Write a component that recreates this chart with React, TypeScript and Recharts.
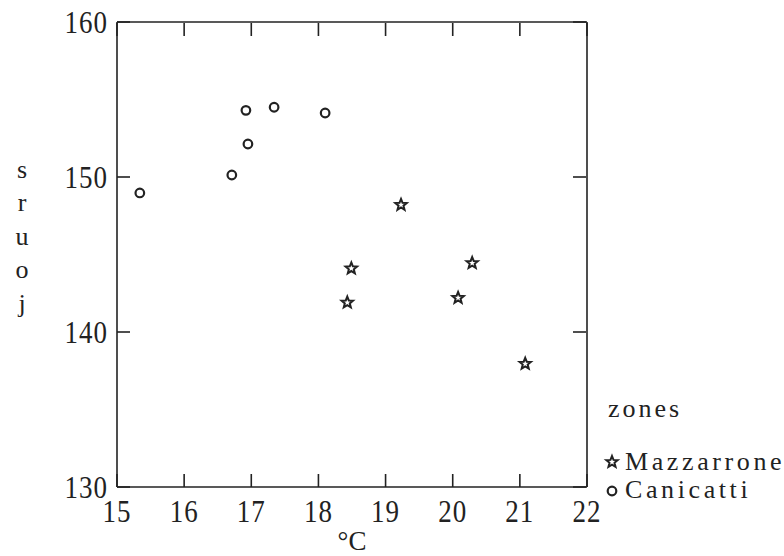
import React from 'react';
import { Legend, Scatter, ScatterChart, XAxis, YAxis } from 'recharts';

// temperature (°C) vs days, two zones
const mazzarroneTemp = [19.23, 18.49, 18.43, 20.08, 20.29, 21.08];
const mazzarroneDays = [148.2, 144.1, 141.9, 142.2, 144.45, 137.95];

const canicattiTemp = [15.34, 16.71, 16.95, 16.92, 17.34, 18.1];
const canicattiDays = [148.97, 150.13, 152.13, 154.3, 154.5, 154.13];

const xTicks = [15, 16, 17, 18, 19, 20, 21, 22];
const yTicks = [130, 140, 150, 160];

const FONT = "'Liberation Serif', 'Times New Roman', serif";
const INK = '#222';
const TICK_LEN = 13;
const X_GAP = 13;
const Y_GAP = 9;

const mazzarrone = mazzarroneTemp.map((t, i) => ({ t, d: mazzarroneDays[i] }));
const canicatti = canicattiTemp.map((t, i) => ({ t, d: canicattiDays[i] }));

function starPoints(cx: number, cy: number, ro: number, ri: number) {
  const pts: string[] = [];
  for (let i = 0; i < 10; i++) {
    const r = i % 2 === 0 ? ro : ri;
    const a = -Math.PI / 2 + (i * Math.PI) / 5;
    pts.push(`${cx + r * Math.cos(a)},${cy + r * Math.sin(a)}`);
  }
  return pts.join(' ');
}

const StarMark = ({ cx, cy }: any) => (
  <polygon points={starPoints(cx, cy, 6, 2.6)} fill="#fff" stroke={INK} strokeWidth={2} strokeLinejoin="miter" />
);

const CircleMark = ({ cx, cy }: any) => (
  <circle cx={cx} cy={cy} r={4.3} fill="#fff" stroke={INK} strokeWidth={2.2} />
);

const textStyle = { fontFamily: FONT, fontSize: 26, fill: INK, letterSpacing: 3 } as const;

function ZonesLegend() {
  return (
    <svg width={184} height={120}>
      <text x={8} y={24} style={textStyle}>zones</text>
      <StarMark cx={12} cy={69} />
      <text x={25} y={77} style={{ ...textStyle, letterSpacing: 3.6 }}>Mazzarrone</text>
      <CircleMark cx={12} cy={98} />
      <text x={25} y={105} style={{ ...textStyle, letterSpacing: 3.6 }}>Canicatti</text>
    </svg>
  );
}

function StackedLabel({ viewBox }: any) {
  const letters = ['s', 'r', 'u', 'o', 'j'];
  const mid = viewBox.y + viewBox.height / 2 - 10;
  return (
    <text x={22} y={mid - 2 * 33.5} textAnchor="middle" style={{ fontFamily: FONT, fontSize: 26, fill: INK }}>
      {letters.map((c, i) => (
        <tspan key={c} x={22} dy={i === 0 ? 0 : 33.5}>
          {c}
        </tspan>
      ))}
    </text>
  );
}

const numStyle = { fontFamily: FONT, fontSize: 27, fill: INK, letterSpacing: 1 };

// tick mark pointing into the plot, plus a vertically stretched label
const BottomTick = (props: any) => {
  const { x, y, payload } = props;
  return (
    <g>
      <line x1={x} x2={x} y1={y - X_GAP} y2={y - X_GAP - TICK_LEN} stroke={INK} strokeWidth={1.6} />
      <text transform={`translate(${x},${y}) scale(1,1.15)`} textAnchor="middle" dy="0.71em" style={numStyle}>
        {payload.value}
      </text>
    </g>
  );
};

const LeftTick = (props: any) => {
  const { x, y, payload } = props;
  return (
    <g>
      <line x1={x + Y_GAP} x2={x + Y_GAP + TICK_LEN} y1={y} y2={y} stroke={INK} strokeWidth={1.6} />
      <text transform={`translate(${x},${y}) scale(1,1.15)`} textAnchor="end" dy="0.355em" style={numStyle}>
        {payload.value}
      </text>
    </g>
  );
};

const TopTick = (props: any) => {
  const { x, y } = props;
  return <line x1={x} x2={x} y1={y + 1} y2={y + 1 + TICK_LEN} stroke={INK} strokeWidth={1.6} />;
};
const RightTick = (props: any) => {
  const { x, y } = props;
  return <line x1={x - 1} x2={x - 1 - TICK_LEN} y1={y} y2={y} stroke={INK} strokeWidth={1.6} />;
};

const axisLine = { stroke: INK, strokeWidth: 1.6 };

export default function App() {
  return (
    <div style={{ position: 'absolute', left: 0, top: 0, background: '#fff' }}>
      <ScatterChart width={784} height={556} margin={{ top: 21, right: 196, bottom: 0, left: 57 }}>
        <XAxis
          dataKey="t"
          type="number"
          domain={[15, 22]}
          ticks={xTicks}
          interval={0}
          height={69}
          tickSize={0}
          tickMargin={X_GAP}
          tick={BottomTick}
          tickLine={false}
          axisLine={axisLine}
          label={{ value: '°C', position: 'insideBottom', offset: 6, style: { fontFamily: FONT, fontSize: 27, fill: INK } }}
        />
        <XAxis
          xAxisId="top"
          dataKey="t"
          orientation="top"
          type="number"
          domain={[15, 22]}
          ticks={xTicks}
          interval={0}
          height={1}
          tickSize={0}
          tickMargin={0}
          tick={TopTick}
          tickLine={false}
          axisLine={axisLine}
        />
        <YAxis
          dataKey="d"
          type="number"
          domain={[130, 160]}
          ticks={yTicks}
          interval={0}
          width={60}
          tickSize={0}
          tickMargin={Y_GAP}
          tick={LeftTick}
          tickLine={false}
          axisLine={axisLine}
          label={{ content: StackedLabel }}
        />
        <YAxis
          yAxisId="right"
          dataKey="d"
          orientation="right"
          type="number"
          domain={[130, 160]}
          ticks={yTicks}
          interval={0}
          width={1}
          tickSize={0}
          tickMargin={0}
          tick={RightTick}
          tickLine={false}
          axisLine={axisLine}
        />
        <Legend
          layout="horizontal"
          verticalAlign="middle"
          align="center"
          wrapperStyle={{ left: 600, top: 393, width: 184 }}
          content={() => <ZonesLegend />}
        />
        <Scatter name="Mazzarrone" data={mazzarrone} shape={StarMark} isAnimationActive={false} />
        <Scatter name="Canicatti" data={canicatti} shape={CircleMark} isAnimationActive={false} />
        {/* keeps the mirrored frame axes alive, draws nothing */}
        <Scatter
          xAxisId="top"
          yAxisId="right"
          data={canicatti}
          shape={() => <g />}
          legendType="none"
          isAnimationActive={false}
        />
      </ScatterChart>
    </div>
  );
}
